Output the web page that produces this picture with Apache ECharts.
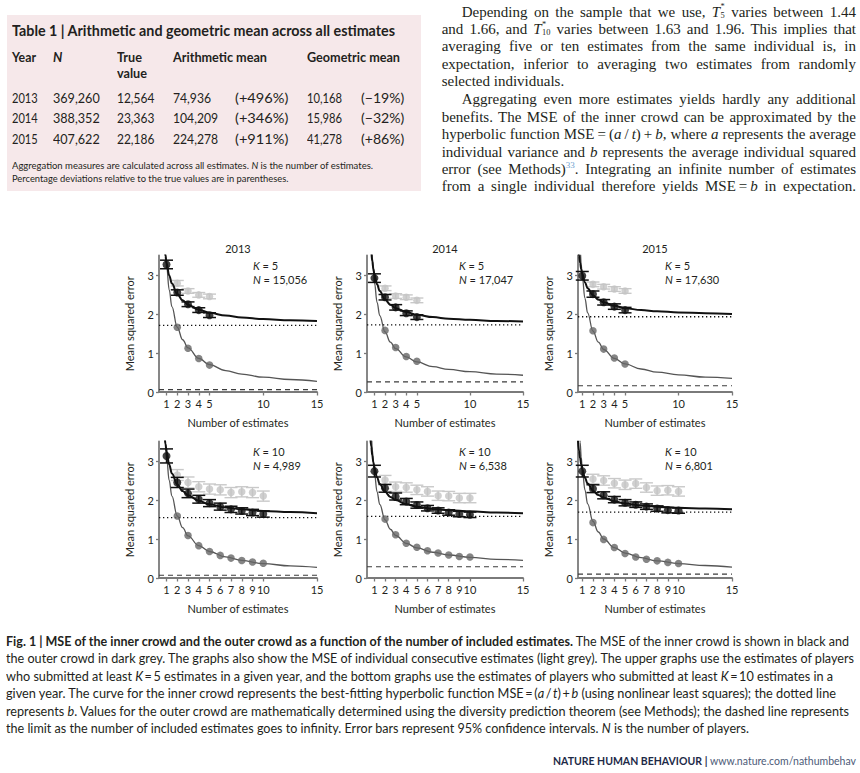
<!DOCTYPE html>
<html><head><meta charset="utf-8">
<script src="https://cdn.jsdelivr.net/npm/echarts@6/dist/echarts.min.js"></script>
<style>
html,body{margin:0;padding:0;background:#fff;}
#page{position:relative;width:860px;height:773px;overflow:hidden;}
#chart{position:absolute;left:0;top:0;width:860px;height:773px;}
.t{position:absolute;white-space:nowrap;transform-origin:0 50%;color:#231f20;font-family:Lato,'Open Sans',sans-serif;}
.serif{font-family:'Liberation Serif','DejaVu Serif',serif;}
.box{position:absolute;}
.stk{display:inline-block;font-size:0.56em;line-height:1em;vertical-align:-0.1em;text-align:left;margin-left:0.05em;}
</style></head>
<body><div id="page"><div id="chart"></div></div>
<script>
// ---------------- DATA ----------------
const YEARS = ['2013', '2014', '2015'];
const K_VALUES = [5, 5, 5, 10, 10, 10];
const N_PLAYERS = ['15,056', '17,047', '17,630', '4,989', '6,538', '6,801'];
const X_TICKS_K5 = [1, 2, 3, 4, 5, 10, 15];
const X_TICKS_K10 = [1, 2, 3, 4, 5, 6, 7, 8, 9, 10, 15];
const Y_TICKS = [0, 1, 2, 3];

// inner crowd (black), t = 1..K
const INNER_2013_K5 = [3.27, 2.55, 2.25, 2.10, 1.97];
const INNER_2014_K5 = [2.92, 2.43, 2.17, 2.02, 1.92];
const INNER_2015_K5 = [2.98, 2.51, 2.30, 2.19, 2.10];
const INNER_2013_K10 = [3.13, 2.45, 2.17, 2.02, 1.92, 1.83, 1.76, 1.72, 1.68, 1.64];
const INNER_2014_K10 = [2.74, 2.30, 2.09, 1.96, 1.87, 1.79, 1.73, 1.68, 1.64, 1.62];
const INNER_2015_K10 = [2.74, 2.29, 2.12, 2.01, 1.93, 1.88, 1.83, 1.78, 1.74, 1.73];
// inner crowd 95% CI half widths
const INNER_CI_2013_K5 = [0.11, 0.07, 0.06, 0.06, 0.06];
const INNER_CI_2014_K5 = [0.11, 0.07, 0.07, 0.06, 0.06];
const INNER_CI_2015_K5 = [0.11, 0.08, 0.07, 0.07, 0.07];
const INNER_CI_2013_K10 = [0.18, 0.13, 0.11, 0.10, 0.09, 0.09, 0.08, 0.08, 0.08, 0.08];
const INNER_CI_2014_K10 = [0.15, 0.10, 0.09, 0.08, 0.08, 0.07, 0.07, 0.07, 0.07, 0.07];
const INNER_CI_2015_K10 = [0.15, 0.10, 0.09, 0.08, 0.08, 0.07, 0.07, 0.07, 0.07, 0.07];
// individual consecutive estimates (light grey), t = 2..K
const SINGLE_2013_K5 = [2.79, 2.59, 2.49, 2.45];
const SINGLE_2014_K5 = [2.66, 2.46, 2.43, 2.35];
const SINGLE_2015_K5 = [2.76, 2.70, 2.64, 2.59];
const SINGLE_2013_K10 = [2.64, 2.45, 2.34, 2.28, 2.26, 2.19, 2.21, 2.19, 2.10];
const SINGLE_2014_K10 = [2.51, 2.34, 2.32, 2.26, 2.22, 2.11, 2.10, 2.05, 2.05];
const SINGLE_2015_K10 = [2.54, 2.50, 2.43, 2.39, 2.42, 2.32, 2.24, 2.25, 2.22];
const SINGLE_CI_2013_K5 = [0.07, 0.06, 0.06, 0.06];
const SINGLE_CI_2014_K5 = [0.06, 0.06, 0.06, 0.06];
const SINGLE_CI_2015_K5 = [0.06, 0.06, 0.06, 0.06];
const SINGLE_CI_2013_K10 = [0.14, 0.14, 0.13, 0.13, 0.13, 0.13, 0.13, 0.13, 0.13];
const SINGLE_CI_2014_K10 = [0.12, 0.12, 0.12, 0.12, 0.12, 0.12, 0.12, 0.12, 0.12];
const SINGLE_CI_2015_K10 = [0.12, 0.12, 0.12, 0.12, 0.12, 0.12, 0.12, 0.12, 0.12];
// outer crowd (dark grey), t = 2..K
const OUTER_2013_K5 = [1.66, 1.12, 0.86, 0.69];
const OUTER_2014_K5 = [1.58, 1.14, 0.91, 0.79];
const OUTER_2015_K5 = [1.57, 1.10, 0.87, 0.72];
const OUTER_2013_K10 = [1.59, 1.09, 0.83, 0.68, 0.58, 0.51, 0.45, 0.41, 0.38];
const OUTER_2014_K10 = [1.51, 1.11, 0.89, 0.79, 0.70, 0.64, 0.59, 0.55, 0.54];
const OUTER_2015_K10 = [1.42, 0.99, 0.78, 0.63, 0.54, 0.48, 0.44, 0.40, 0.37];
// curves at these t values
const CURVE_T = [0.6, 0.7, 0.8, 0.9, 1, 1.25, 1.5, 2, 2.5, 3, 4, 5, 6.5, 8, 10, 12.5, 15];
const FIT_INNER_2013_K5 = [4.38, 4.00, 3.71, 3.49, 3.31, 2.99, 2.78, 2.51, 2.35, 2.24, 2.11, 2.03, 1.96, 1.91, 1.87, 1.84, 1.82];
const FIT_OUTER_2013_K5 = [5.39, 4.63, 4.06, 3.62, 3.26, 2.62, 2.19, 1.66, 1.34, 1.13, 0.86, 0.70, 0.55, 0.46, 0.38, 0.32, 0.27];
const FIT_INNER_2014_K5 = [3.89, 3.58, 3.35, 3.16, 3.02, 2.76, 2.59, 2.37, 2.24, 2.15, 2.05, 1.98, 1.92, 1.88, 1.85, 1.82, 1.81];
const FIT_OUTER_2014_K5 = [4.51, 3.90, 3.45, 3.09, 2.81, 2.30, 1.96, 1.54, 1.28, 1.11, 0.90, 0.77, 0.65, 0.58, 0.52, 0.46, 0.43];
const FIT_INNER_2015_K5 = [3.76, 3.50, 3.31, 3.15, 3.03, 2.81, 2.66, 2.48, 2.37, 2.30, 2.21, 2.15, 2.10, 2.07, 2.04, 2.02, 2.00];
const FIT_OUTER_2015_K5 = [4.83, 4.16, 3.66, 3.27, 2.96, 2.40, 2.03, 1.56, 1.28, 1.09, 0.86, 0.72, 0.59, 0.51, 0.44, 0.38, 0.35];
const FIT_INNER_2013_K10 = [4.38, 3.98, 3.68, 3.44, 3.25, 2.91, 2.68, 2.40, 2.23, 2.12, 1.98, 1.89, 1.81, 1.76, 1.72, 1.69, 1.66];
const FIT_OUTER_2013_K10 = [5.14, 4.41, 3.87, 3.45, 3.11, 2.50, 2.10, 1.59, 1.29, 1.08, 0.83, 0.68, 0.54, 0.45, 0.37, 0.31, 0.27];
const FIT_INNER_2014_K10 = [3.66, 3.37, 3.14, 2.97, 2.83, 2.58, 2.41, 2.21, 2.08, 2.00, 1.89, 1.83, 1.77, 1.74, 1.71, 1.68, 1.66];
const FIT_OUTER_2014_K10 = [4.29, 3.72, 3.29, 2.96, 2.69, 2.21, 1.89, 1.49, 1.25, 1.09, 0.89, 0.77, 0.66, 0.59, 0.53, 0.48, 0.45];
const FIT_INNER_2015_K10 = [3.52, 3.26, 3.07, 2.91, 2.79, 2.57, 2.42, 2.24, 2.13, 2.06, 1.97, 1.91, 1.86, 1.83, 1.80, 1.78, 1.76];
const FIT_OUTER_2015_K10 = [4.60, 3.96, 3.48, 3.10, 2.80, 2.26, 1.90, 1.45, 1.18, 1.00, 0.78, 0.64, 0.52, 0.44, 0.37, 0.32, 0.28];
// b (dotted) and outer-crowd limit (dashed) per panel
const B_INNER = [1.71, 1.72, 1.93, 1.55, 1.58, 1.69];
const LIMIT_OUTER = [0.06, 0.26, 0.16, 0.07, 0.29, 0.10];

// table 1
const TABLE_YEAR = ['2013', '2014', '2015'];
const TABLE_N = ['369,260', '388,352', '407,622'];
const TABLE_TRUE = ['12,564', '23,363', '22,186'];
const TABLE_ARITH = ['74,936', '104,209', '224,278'];
const TABLE_ARITH_DEV = ['(+496%)', '(+346%)', '(+911%)'];
const TABLE_GEO = ['10,168', '15,986', '41,278'];
const TABLE_GEO_DEV = ['(\u221219%)', '(\u221232%)', '(+86%)'];

// ---------------- CHART ----------------
const PANELS = [
  {inner: INNER_2013_K5, innerCI: INNER_CI_2013_K5, single: SINGLE_2013_K5, singleCI: SINGLE_CI_2013_K5, outer: OUTER_2013_K5, fitIn: FIT_INNER_2013_K5, fitOut: FIT_OUTER_2013_K5, ticks: X_TICKS_K5},
  {inner: INNER_2014_K5, innerCI: INNER_CI_2014_K5, single: SINGLE_2014_K5, singleCI: SINGLE_CI_2014_K5, outer: OUTER_2014_K5, fitIn: FIT_INNER_2014_K5, fitOut: FIT_OUTER_2014_K5, ticks: X_TICKS_K5},
  {inner: INNER_2015_K5, innerCI: INNER_CI_2015_K5, single: SINGLE_2015_K5, singleCI: SINGLE_CI_2015_K5, outer: OUTER_2015_K5, fitIn: FIT_INNER_2015_K5, fitOut: FIT_OUTER_2015_K5, ticks: X_TICKS_K5},
  {inner: INNER_2013_K10, innerCI: INNER_CI_2013_K10, single: SINGLE_2013_K10, singleCI: SINGLE_CI_2013_K10, outer: OUTER_2013_K10, fitIn: FIT_INNER_2013_K10, fitOut: FIT_OUTER_2013_K10, ticks: X_TICKS_K10},
  {inner: INNER_2014_K10, innerCI: INNER_CI_2014_K10, single: SINGLE_2014_K10, singleCI: SINGLE_CI_2014_K10, outer: OUTER_2014_K10, fitIn: FIT_INNER_2014_K10, fitOut: FIT_OUTER_2014_K10, ticks: X_TICKS_K10},
  {inner: INNER_2015_K10, innerCI: INNER_CI_2015_K10, single: SINGLE_2015_K10, singleCI: SINGLE_CI_2015_K10, outer: OUTER_2015_K10, fitIn: FIT_INNER_2015_K10, fitOut: FIT_OUTER_2015_K10, ticks: X_TICKS_K10}
];
const GRID_LEFT = [159, 367, 578];
const GRID_W = [158, 156, 154];
const GRID_TOP = [255.5, 441.5];
const GRID_H = 136.5;
const X_MIN = [0.3, 0.3, 0.6];
const FONT = 'Lato, "Open Sans", sans-serif';
const INK = '#231f20';

function errRender(color, lw, hw) {
  return function (params, api) {
    const x = api.value(0), y = api.value(1), e = api.value(2);
    const p1 = api.coord([x, y + e]), p2 = api.coord([x, y - e]);
    const st = {stroke: color, lineWidth: lw};
    return {type: 'group', children: [
      {type: 'line', shape: {x1: p1[0], y1: p1[1], x2: p2[0], y2: p2[1]}, style: st},
      {type: 'line', shape: {x1: p1[0] - hw, y1: p1[1], x2: p1[0] + hw, y2: p1[1]}, style: st},
      {type: 'line', shape: {x1: p2[0] - hw, y1: p2[1], x2: p2[0] + hw, y2: p2[1]}, style: st}
    ]};
  };
}

const grids = [], xAxes = [], yAxes = [], series = [], graphics = [];
PANELS.forEach((p, i) => {
  const c = i % 3, r = Math.floor(i / 3);
  const xmin = X_MIN[c];
  grids.push({left: GRID_LEFT[c], top: GRID_TOP[r], width: GRID_W[c], height: GRID_H});
  xAxes.push({
    type: 'value', gridIndex: i, min: xmin, max: 15,
    name: 'Number of estimates', nameLocation: 'middle', nameGap: 25,
    nameTextStyle: {fontFamily: FONT, fontSize: 11, color: INK},
    axisLine: {show: true, onZero: false, lineStyle: {color: '#7a7a7a', width: 1.8}},
    axisTick: {show: true, length: 3.5, customValues: p.ticks, lineStyle: {color: '#7a7a7a', width: 1.3}},
    axisLabel: {customValues: p.ticks, margin: 6, fontFamily: FONT, fontSize: 11, color: INK},
    splitLine: {show: false}
  });
  yAxes.push({
    type: 'value', gridIndex: i, min: 0, max: 3.5,
    name: 'Mean squared error', nameLocation: 'middle', nameGap: 24, nameRotate: 90,
    nameTextStyle: {fontFamily: FONT, fontSize: 11, color: INK},
    axisLine: {show: true, lineStyle: {color: '#7a7a7a', width: 1.8}},
    axisTick: {show: true, length: 3, customValues: Y_TICKS, lineStyle: {color: '#7a7a7a', width: 1.3}},
    axisLabel: {customValues: Y_TICKS, margin: 5, fontFamily: FONT, fontSize: 11, color: INK},
    splitLine: {show: false}
  });
  const ax = {xAxisIndex: i, yAxisIndex: i};
  // light grey: individual consecutive estimates
  series.push(Object.assign({type: 'custom', silent: true, z: 2,
    renderItem: errRender('#c9c9c9', 1.4, 6.5), encode: {x: 0, y: 1},
    data: p.single.map((v, j) => [j + 2, v, p.singleCI[j]])}, ax));
  series.push(Object.assign({type: 'scatter', z: 3, symbolSize: 7.5, itemStyle: {color: '#c4c4c4'},
    data: p.single.map((v, j) => [j + 2, v])}, ax));
  // dashed limit & outer curve
  series.push(Object.assign({type: 'line', z: 3, showSymbol: false, symbol: 'none',
    lineStyle: {color: '#3c3c3c', width: 1.1, type: [5, 4]},
    data: [[xmin, LIMIT_OUTER[i]], [15, LIMIT_OUTER[i]]]}, ax));
  series.push(Object.assign({type: 'line', z: 4, symbol: 'none', smooth: 0.4, smoothMonotone: 'x',
    lineStyle: {color: '#555', width: 1.3},
    data: CURVE_T.map((t, j) => [t, p.fitOut[j]])}, ax));
  series.push(Object.assign({type: 'scatter', z: 5, symbolSize: 7.5, itemStyle: {color: '#666'},
    data: p.outer.map((v, j) => [j + 2, v])}, ax));
  // dotted b & inner curve
  series.push(Object.assign({type: 'line', z: 4, symbol: 'none',
    lineStyle: {color: '#111', width: 1.3, type: [1.3, 2.7]},
    data: [[xmin, B_INNER[i]], [15, B_INNER[i]]]}, ax));
  series.push(Object.assign({type: 'line', z: 6, symbol: 'none', smooth: 0.4, smoothMonotone: 'x',
    lineStyle: {color: '#111', width: 2},
    data: CURVE_T.map((t, j) => [t, p.fitIn[j]])}, ax));
  series.push(Object.assign({type: 'custom', silent: true, z: 7,
    renderItem: errRender('#111', 1.5, 6.5), encode: {x: 0, y: 1},
    data: p.inner.map((v, j) => [j + 1, v, p.innerCI[j]])}, ax));
  series.push(Object.assign({type: 'scatter', z: 8, symbolSize: 8, itemStyle: {color: '#111'},
    data: p.inner.map((v, j) => [j + 1, v])}, ax));

  // labels
  const kx = GRID_LEFT[c] + [94, 92, 87][c];
  const ky = r === 0 ? 265.7 : 451.7;
  graphics.push({type: 'text', x: kx, y: ky, style: {text: '{i|K} = ' + K_VALUES[i], fill: INK,
    font: '11px ' + FONT, verticalAlign: 'middle', rich: {i: {fontStyle: 'italic', fontSize: 11, fontFamily: FONT, fill: INK}}}});
  graphics.push({type: 'text', x: kx, y: ky + 13.5, style: {text: '{i|N} = ' + N_PLAYERS[i], fill: INK,
    font: '11px ' + FONT, verticalAlign: 'middle', rich: {i: {fontStyle: 'italic', fontSize: 11, fontFamily: FONT, fill: INK}}}});
  if (r === 0) {
    graphics.push({type: 'text', x: GRID_LEFT[c] + GRID_W[c] / 2, y: 248, style: {text: YEARS[c], fill: INK,
      font: '11px ' + FONT, align: 'center', verticalAlign: 'middle'}});
  }
});

const chart = echarts.init(document.getElementById('chart'), null, {renderer: 'svg'});
chart.setOption({animation: false, backgroundColor: 'transparent', grid: grids, xAxis: xAxes, yAxis: yAxes, series: series, graphic: graphics});

// ---------------- PAGE TEXT ----------------
const page = document.getElementById('page');
function box(x, y, w, h, color) {
  const d = document.createElement('div');
  d.className = 'box';
  Object.assign(d.style, {left: x + 'px', top: y + 'px', width: w + 'px', height: h + 'px', background: color});
  page.insertBefore(d, page.firstChild);
}
function txt(html, x, cy, o) {
  o = o || {};
  const d = document.createElement('div');
  d.className = 't' + (o.cls ? ' ' + o.cls : '');
  const fs = o.fs || 13;
  const lh = Math.round(fs * 1.3);
  d.style.fontSize = fs + 'px';
  d.style.lineHeight = lh + 'px';
  d.style.left = x + 'px';
  d.style.top = (cy - lh / 2) + 'px';
  if (o.bold) d.style.fontWeight = 'bold';
  if (o.color) d.style.color = o.color;
  d.innerHTML = html;
  page.appendChild(d);
  const nat = d.getBoundingClientRect().width;
  if (o.w) {
    if (o.justify) {
      const n = (d.textContent.match(/ /g) || []).length;
      if (n) d.style.wordSpacing = ((o.w - nat) / n) + 'px';
    } else {
      d.style.transform = 'scaleX(' + (o.w / nat) + ')';
    }
  } else if (o.sx) {
    d.style.transform = 'scaleX(' + o.sx + ')';
  }
  return {el: d, nat: nat};
}

function buildText() {
  // Table 1
  box(7, 15, 414, 176, '#f6e8ea');
  box(7, 15, 414, 29, '#eed5d9');
  box(12, 84.3, 404, 1.5, '#3a3a3a');
  box(12, 152.3, 404, 1.3, '#3a3a3a');
  txt('Table 1 | Arithmetic and geometric mean across all estimates', 12, 30, {fs: 14.5, bold: true, w: 383});
  txt('Year', 12, 57, {fs: 13, bold: true, w: 24});
  txt('<i>N</i>', 53, 57, {fs: 13, bold: true});
  txt('True', 117, 57, {fs: 13, bold: true, w: 25});
  txt('value', 117, 73, {fs: 13, bold: true, w: 30});
  txt('Arithmetic mean', 173, 57, {fs: 13, bold: true, w: 94});
  txt('Geometric mean', 307, 57, {fs: 13, bold: true, w: 93});
  const cols = [TABLE_YEAR, TABLE_N, TABLE_TRUE, TABLE_ARITH, TABLE_ARITH_DEV, TABLE_GEO, TABLE_GEO_DEV];
  const colX = [12, 53, 117, 173, 235, 307, 361];
  const row1W = [25.7, 46.7, 37.3, 38, 53.3, 35, 43.3];
  const rowY = [97.7, 118.3, 139];
  cols.forEach((col, ci) => {
    const first = txt(col[0], colX[ci], rowY[0], {fs: 13.5, w: row1W[ci]});
    const s = row1W[ci] / first.nat;
    for (let ri = 1; ri < col.length; ri++) txt(col[ri], colX[ci], rowY[ri], {fs: 13.5, sx: s});
  });
  txt('Aggregation measures are calculated across all estimates. <i>N</i> is the number of estimates.', 12, 165, {fs: 10, w: 361});
  txt('Percentage deviations relative to the true values are in parentheses.', 12, 178, {fs: 10, w: 276.5});

  // right column serif text
  const ss = (a, b) => '<span class="stk">' + a + '<br>' + b + '</span>';
  const lines = [
    ['Depending on the sample that we use, <i>T</i>' + ss('*', '5') + ' varies between 1.44', 1, true],
    ['and 1.66, and <i>T</i>' + ss('*', '10') + ' varies between 1.63 and 1.96. This implies that', 0, true],
    ['averaging five or ten estimates from the same individual is, in', 0, true],
    ['expectation, inferior to averaging two estimates from randomly', 0, true],
    ['selected individuals.', 0, false],
    ['Aggregating even more estimates yields hardly any additional', 1, true],
    ['benefits. The MSE of the inner crowd can be approximated by the', 0, true],
    ['hyperbolic function MSE\u2009=\u2009(<i>a</i>\u2009/\u2009<i>t</i>)\u2009+\u2009<i>b</i>, where <i>a</i> represents the average', 0, true],
    ['individual variance and <i>b</i> represents the average individual squared', 0, true],
    ['error (see Methods)<sup style="font-size:0.6em;color:#6f9fd0;line-height:0">33</sup>. Integrating an infinite number of estimates', 0, true],
    ['from a single individual therefore yields MSE\u2009=\u2009<i>b</i> in expectation.', 0, true]
  ];
  const ly = [11.7, 29.3, 46, 64, 81, 99.3, 116.7, 134, 151.7, 169, 186];
  lines.forEach((l, k) => {
    const x = l[1] ? 461.7 : 441.7;
    const w = l[1] ? 394.3 : 414.3;
    txt(l[0], x, ly[k], {fs: 15, cls: 'serif', w: l[2] ? w : null, justify: true});
  });

  // caption
  const cap = [
    '<b>Fig. 1 | MSE of the inner crowd and the outer crowd as a function of the number of included estimates.</b> The MSE of the inner crowd is shown in black and',
    'the outer crowd in dark grey. The graphs also show the MSE of individual consecutive estimates (light grey). The upper graphs use the estimates of players',
    'who submitted at least <i>K</i>\u2009=\u20095 estimates in a given year, and the bottom graphs use the estimates of players who submitted at least <i>K</i>\u2009=\u200910 estimates in a',
    'given year. The curve for the inner crowd represents the best-fitting hyperbolic function MSE\u2009=\u2009(<i>a</i>\u2009/\u2009<i>t</i>)\u2009+\u2009<i>b</i> (using nonlinear least squares); the dotted line',
    'represents <i>b</i>. Values for the outer crowd are mathematically determined using the diversity prediction theorem (see Methods); the dashed line represents',
    'the limit as the number of included estimates goes to infinity. Error bars represent 95% confidence intervals. <i>N</i> is the number of players.'
  ];
  const cy = [641.7, 659.3, 676.7, 694.3, 711.7, 729.3];
  const cw = [843, 848, 827, 830, 843, 743];
  cap.forEach((c, k) => txt(c, 6, cy[k], {fs: 12.5, w: cw[k]}));

  txt('<b style="color:#1d2a48">NATURE HUMAN BEHAVIOUR</b> <b style="color:#1d2a48">|</b> <span style="color:#4d5b78">www.nature.com/nathumbehav</span>', 553, 761, {fs: 11, w: 303});
}
if (document.fonts && document.fonts.ready) document.fonts.ready.then(buildText); else buildText();
</script>
</body></html>
